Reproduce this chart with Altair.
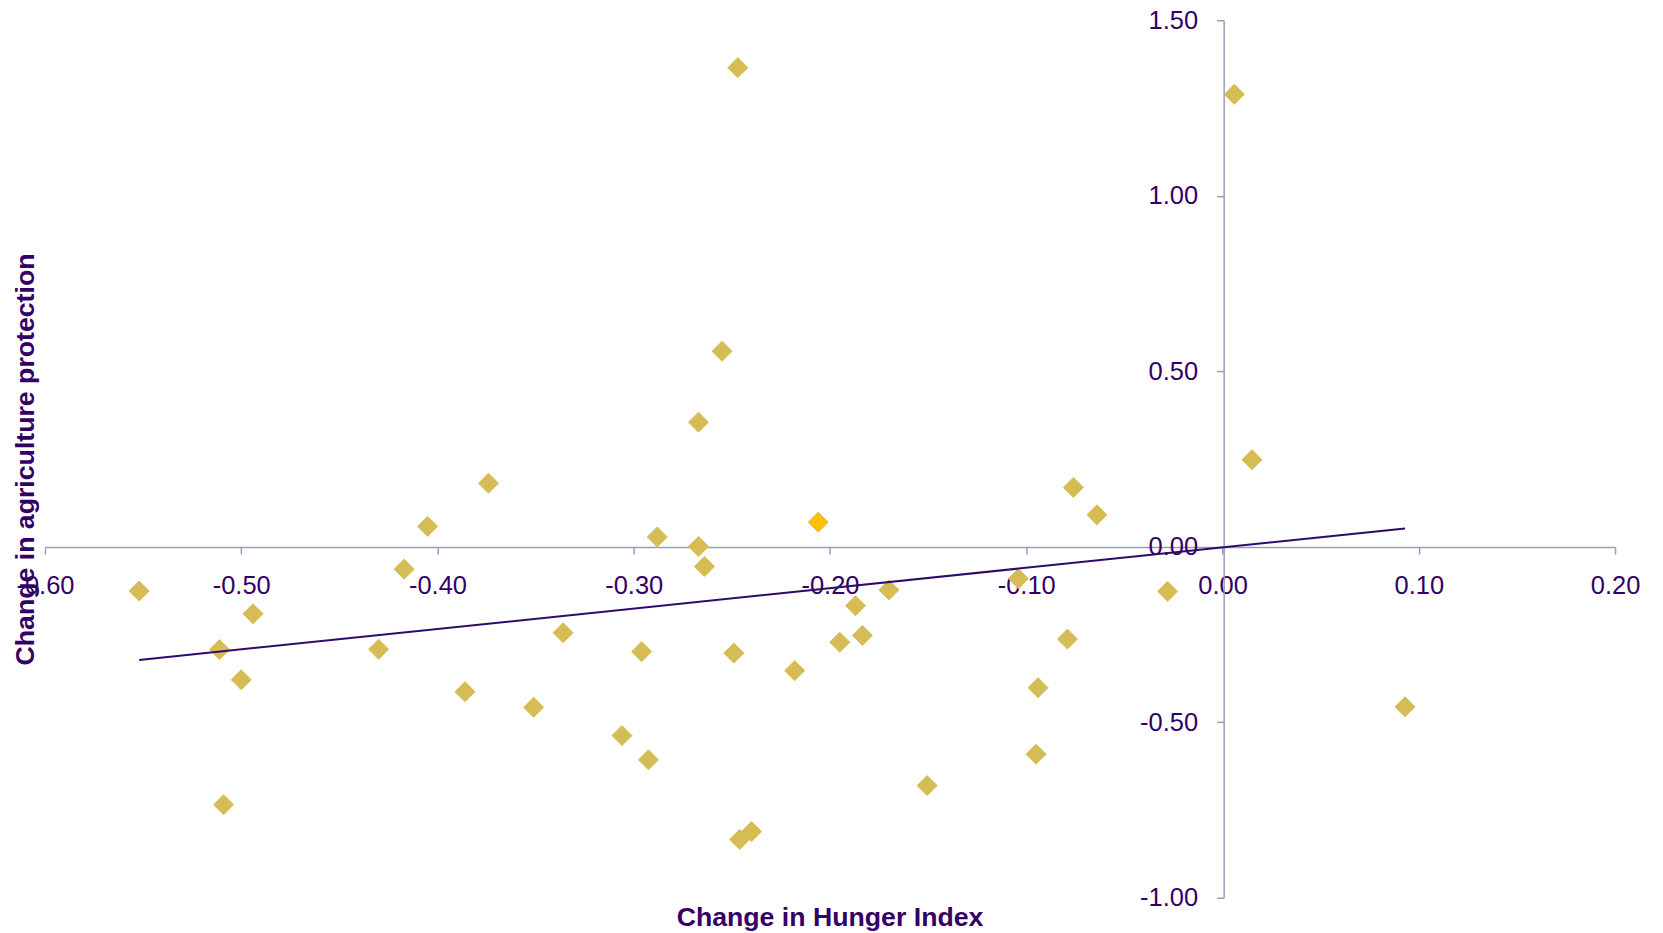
import altair as alt
import pandas as pd

hunger = [-0.552, -0.494, -0.511, -0.500, -0.509, -0.430, -0.417, -0.405, -0.374, -0.386,
          -0.351, -0.336, -0.306, -0.296, -0.2925, -0.288, -0.267, -0.267, -0.264, -0.255,
          -0.247, -0.249, -0.246, -0.240, -0.218, -0.206, -0.195, -0.187, -0.1835, -0.170,
          -0.1505, -0.104, -0.095, -0.094, -0.079, -0.076, -0.064, -0.028, 0.006, 0.015, 0.093]
protection = [-0.126, -0.191, -0.293, -0.379, -0.735, -0.292, -0.064, 0.058, 0.181, -0.413,
              -0.4575, -0.245, -0.538, -0.299, -0.607, 0.028, 0.355, 0.001, -0.056, 0.557,
              1.365, -0.303, -0.834, -0.8115, -0.353, 0.070, -0.272, -0.168, -0.2525, -0.123,
              -0.6805, -0.091, -0.591, -0.4015, -0.263, 0.169, 0.091, -0.127, 1.289, 0.248, -0.456]
kind = ["normal"] * len(hunger)
kind[25] = "highlight"

x_ticks = [-0.6, -0.5, -0.4, -0.3, -0.2, -0.1, 0.0, 0.1, 0.2]
y_ticks = [-1.0, -0.5, 0.0, 0.5, 1.0, 1.5]

df = pd.DataFrame({"hunger": hunger, "protection": protection, "kind": kind})

W, H = 1571, 878
AXIS_COLOR = "#9d9bb6"
TEXT_COLOR = "#330066"
FONT = "Liberation Sans"
LABEL_EXPR = "replace(format(datum.value, '.2f'), '\u2212', '-')"

x_scale = alt.Scale(domain=[-0.6, 0.2], nice=False, zero=False)
y_scale = alt.Scale(domain=[-1.0, 1.5], nice=False, zero=False)

x_axis = alt.Axis(
    values=x_ticks, labelExpr=LABEL_EXPR, offset=-351, grid=False,
    tickSize=7, labelPadding=20, domainColor=AXIS_COLOR, tickColor=AXIS_COLOR,
    domainWidth=1.5, tickWidth=1.5,
    labelColor=TEXT_COLOR, labelFont=FONT, labelFontSize=25.5,
    labelOverlap=False, labelFlush=False,
    title="Change in Hunger Index", titleX=785, titleY=379, titleBaseline="alphabetic",
    titleFont=FONT, titleFontSize=26.7, titleFontWeight="bold", titleColor=TEXT_COLOR,
)
y_axis = alt.Axis(
    values=y_ticks, labelExpr=LABEL_EXPR, offset=-1179.4, grid=False,
    tickSize=7, labelPadding=19, domainColor=AXIS_COLOR, tickColor=AXIS_COLOR,
    domainWidth=1.5, tickWidth=1.5,
    labelColor=TEXT_COLOR, labelFont=FONT, labelFontSize=25.5,
    labelOverlap=False, labelFlush=False,
    title="Change in agriculture protection", titleX=-1191, titleY=439,
    titleAngle=270, titleBaseline="alphabetic", titleAlign="center",
    titleFont=FONT, titleFontSize=26.7, titleFontWeight="bold", titleColor=TEXT_COLOR,
)

points = alt.Chart(df).mark_point(shape="diamond", filled=True, size=400, opacity=1,
                                  stroke="#d6bc55", strokeWidth=1).encode(
    x=alt.X("hunger:Q", scale=x_scale, axis=x_axis),
    y=alt.Y("protection:Q", scale=y_scale, axis=y_axis),
    color=alt.Color("kind:N", scale=alt.Scale(domain=["normal", "highlight"],
                                              range=["#d6bc55", "#ffc000"]), legend=None),
)

trend = alt.Chart(df).transform_regression("hunger", "protection").mark_line(
    color="#2e0a6b", strokeWidth=2).encode(
    x=alt.X("hunger:Q", scale=x_scale),
    y=alt.Y("protection:Q", scale=y_scale),
)

chart = alt.layer(points, trend).properties(
    width=W, height=H,
    autosize=alt.AutoSizeParams(type="none"),
    padding={"left": 37, "top": 12, "right": 40, "bottom": 38},
    background="white",
).configure_view(stroke=None)

chart.save("out.html", embed_options={"renderer": "svg", "actions": False})
